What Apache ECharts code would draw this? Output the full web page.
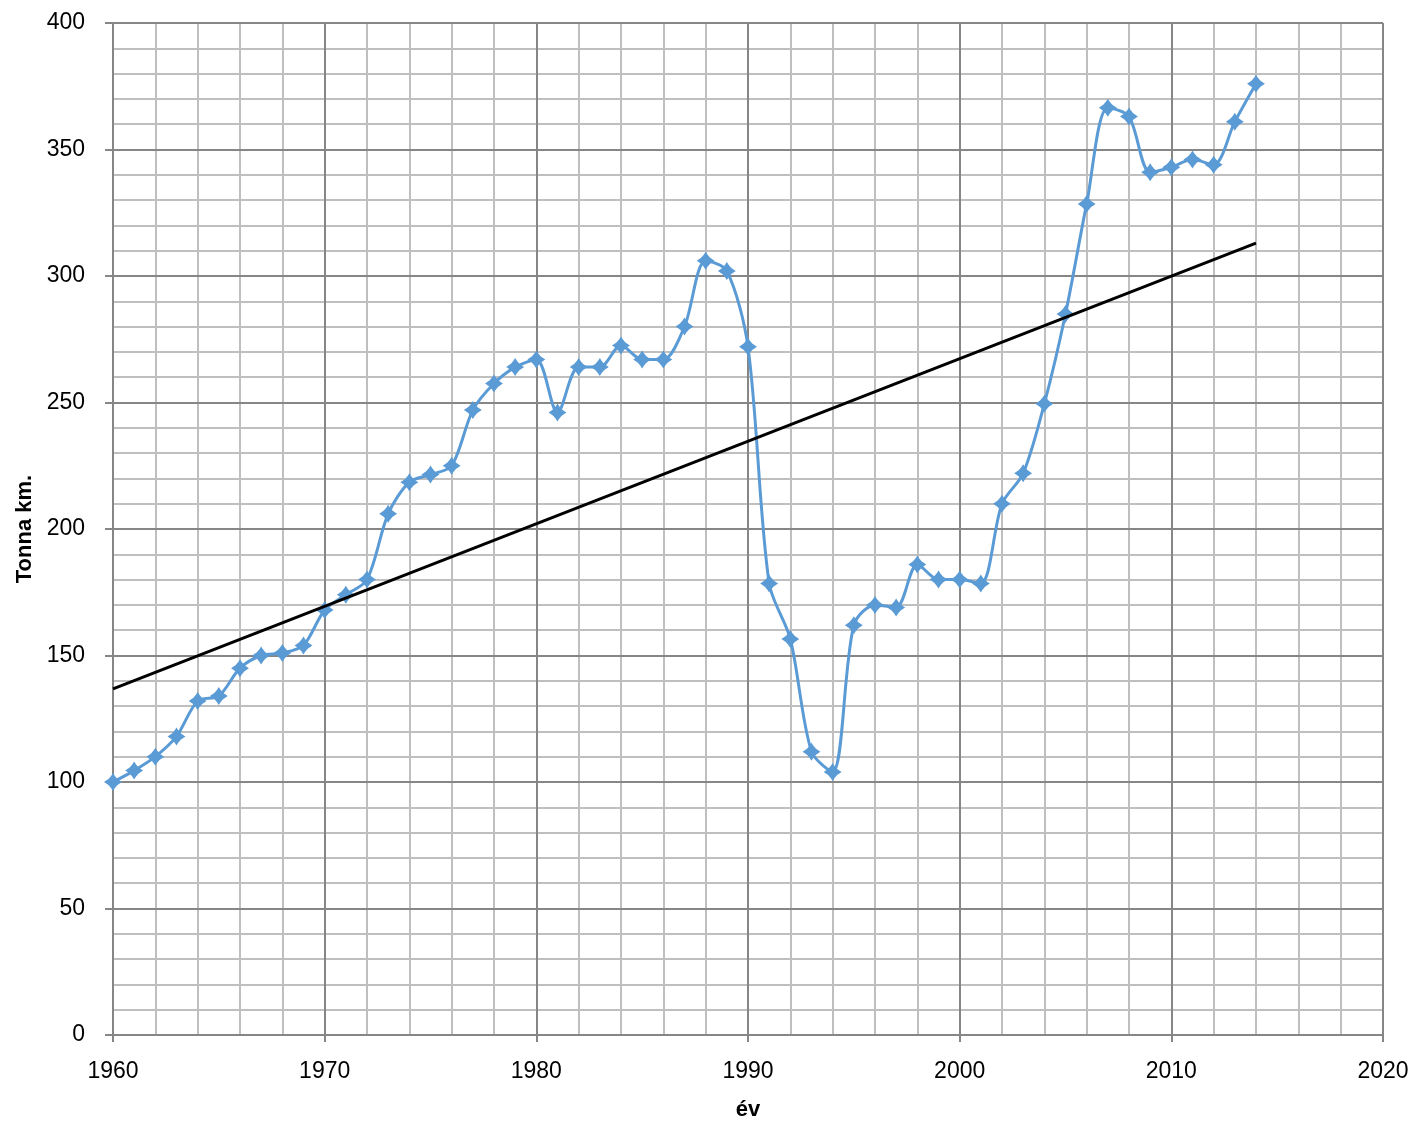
<!DOCTYPE html>
<html>
<head>
<meta charset="utf-8">
<script src="https://cdn.jsdelivr.net/npm/echarts@6/dist/echarts.min.js"></script>
<style>
    html, body { margin: 0; padding: 0; background: #ffffff; }
    #chart { width: 1413px; height: 1122px; }
</style>
</head>
<body>
<div id="chart"></div>
<script>
// évek és értékek (Tonna km.)
var years = [1960, 1961, 1962, 1963, 1964, 1965, 1966, 1967, 1968, 1969,
    1970, 1971, 1972, 1973, 1974, 1975, 1976, 1977, 1978, 1979,
    1980, 1981, 1982, 1983, 1984, 1985, 1986, 1987, 1988, 1989,
    1990, 1991, 1992, 1993, 1994, 1995, 1996, 1997, 1998, 1999,
    2000, 2001, 2002, 2003, 2004, 2005, 2006, 2007, 2008, 2009,
    2010, 2011, 2012, 2013, 2014];
var values = [100, 104.5, 110, 118, 132, 134, 145, 150, 151, 154,
    168, 174, 180, 206, 218.5, 221.5, 225, 247, 257.5, 264,
    267, 246, 264, 264, 272.5, 267, 267, 280, 306, 302,
    272, 178.5, 156.5, 112, 104, 162, 170, 169, 186, 180,
    180, 178.5, 210, 222, 249.5, 285, 328.5, 366.5, 363, 341,
    343, 346, 344, 361, 376];
// lineáris trendvonal végpontjai
var trendYears = [1960, 2014];
var trendValues = [136.8, 313];

var lineColor = '#5b9bd5';
var majorColor = '#868686';
var minorColor = '#bfbfbf';
var fontName = 'Liberation Sans, Arial, sans-serif';
var starPath = 'path://M0,-10 C3,-5 5,-3 10,0 C5,3 3,5 0,10 C-3,5 -5,3 -10,0 C-5,-3 -3,-5 0,-10 Z';

var chart = echarts.init(document.getElementById('chart'));
var labelFont = { color: '#000000', fontSize: 23, fontFamily: fontName };
var nameFont = { color: '#000000', fontSize: 22, fontWeight: 'bold', fontFamily: fontName };

// sűrű rács: külön, rejtett tengelyek
function minorAxis(min, max, step) {
    return {
        type: 'value', min: min, max: max, interval: step, z: 0,
        axisLine: { show: false }, axisTick: { show: false }, axisLabel: { show: false },
        splitLine: { show: true, lineStyle: { color: minorColor, width: 2 } }
    };
}

chart.setOption({
    animation: false,
    grid: { left: 113, right: 30, top: 23, bottom: 87, containLabel: false, outerBoundsMode: 'none' },
    xAxis: [
        {
            type: 'value', z: 2,
            min: 1960, max: 2020, interval: 10,
            name: 'év', nameLocation: 'middle', nameGap: 64, nameTextStyle: nameFont,
            axisLine: { onZero: false, lineStyle: { color: majorColor, width: 2 } },
            axisTick: { show: true, length: 7, lineStyle: { color: majorColor, width: 2 } },
            axisLabel: Object.assign({ margin: 25, formatter: function (v) { return String(v); } }, labelFont),
            splitLine: { show: true, lineStyle: { color: majorColor, width: 2 } }
        },
        minorAxis(1960, 2020, 2)
    ],
    yAxis: [
        {
            type: 'value', z: 2,
            min: 0, max: 400, interval: 50,
            name: 'Tonna km.', nameLocation: 'middle', nameGap: 77, nameRotate: 90, nameTextStyle: nameFont,
            axisLine: { show: true, onZero: false, lineStyle: { color: majorColor, width: 2 } },
            axisTick: { show: true, length: 8, lineStyle: { color: majorColor, width: 2 } },
            axisLabel: Object.assign({ margin: 28 }, labelFont),
            splitLine: { show: true, lineStyle: { color: majorColor, width: 2 } }
        },
        minorAxis(0, 400, 10)
    ],
    series: [
        {
            name: 'Tonna km.',
            type: 'line',
            smooth: 0.3,
            data: years.map(function (y, i) { return [y, values[i]]; }),
            symbol: starPath,
            symbolSize: 18,
            itemStyle: { color: lineColor },
            lineStyle: { color: lineColor, width: 3 },
            z: 3
        },
        {
            name: 'trend',
            type: 'line',
            data: trendYears.map(function (y, i) { return [y, trendValues[i]]; }),
            symbol: 'none',
            lineStyle: { color: '#000000', width: 3 },
            z: 4
        }
    ]
});
</script>
</body>
</html>
